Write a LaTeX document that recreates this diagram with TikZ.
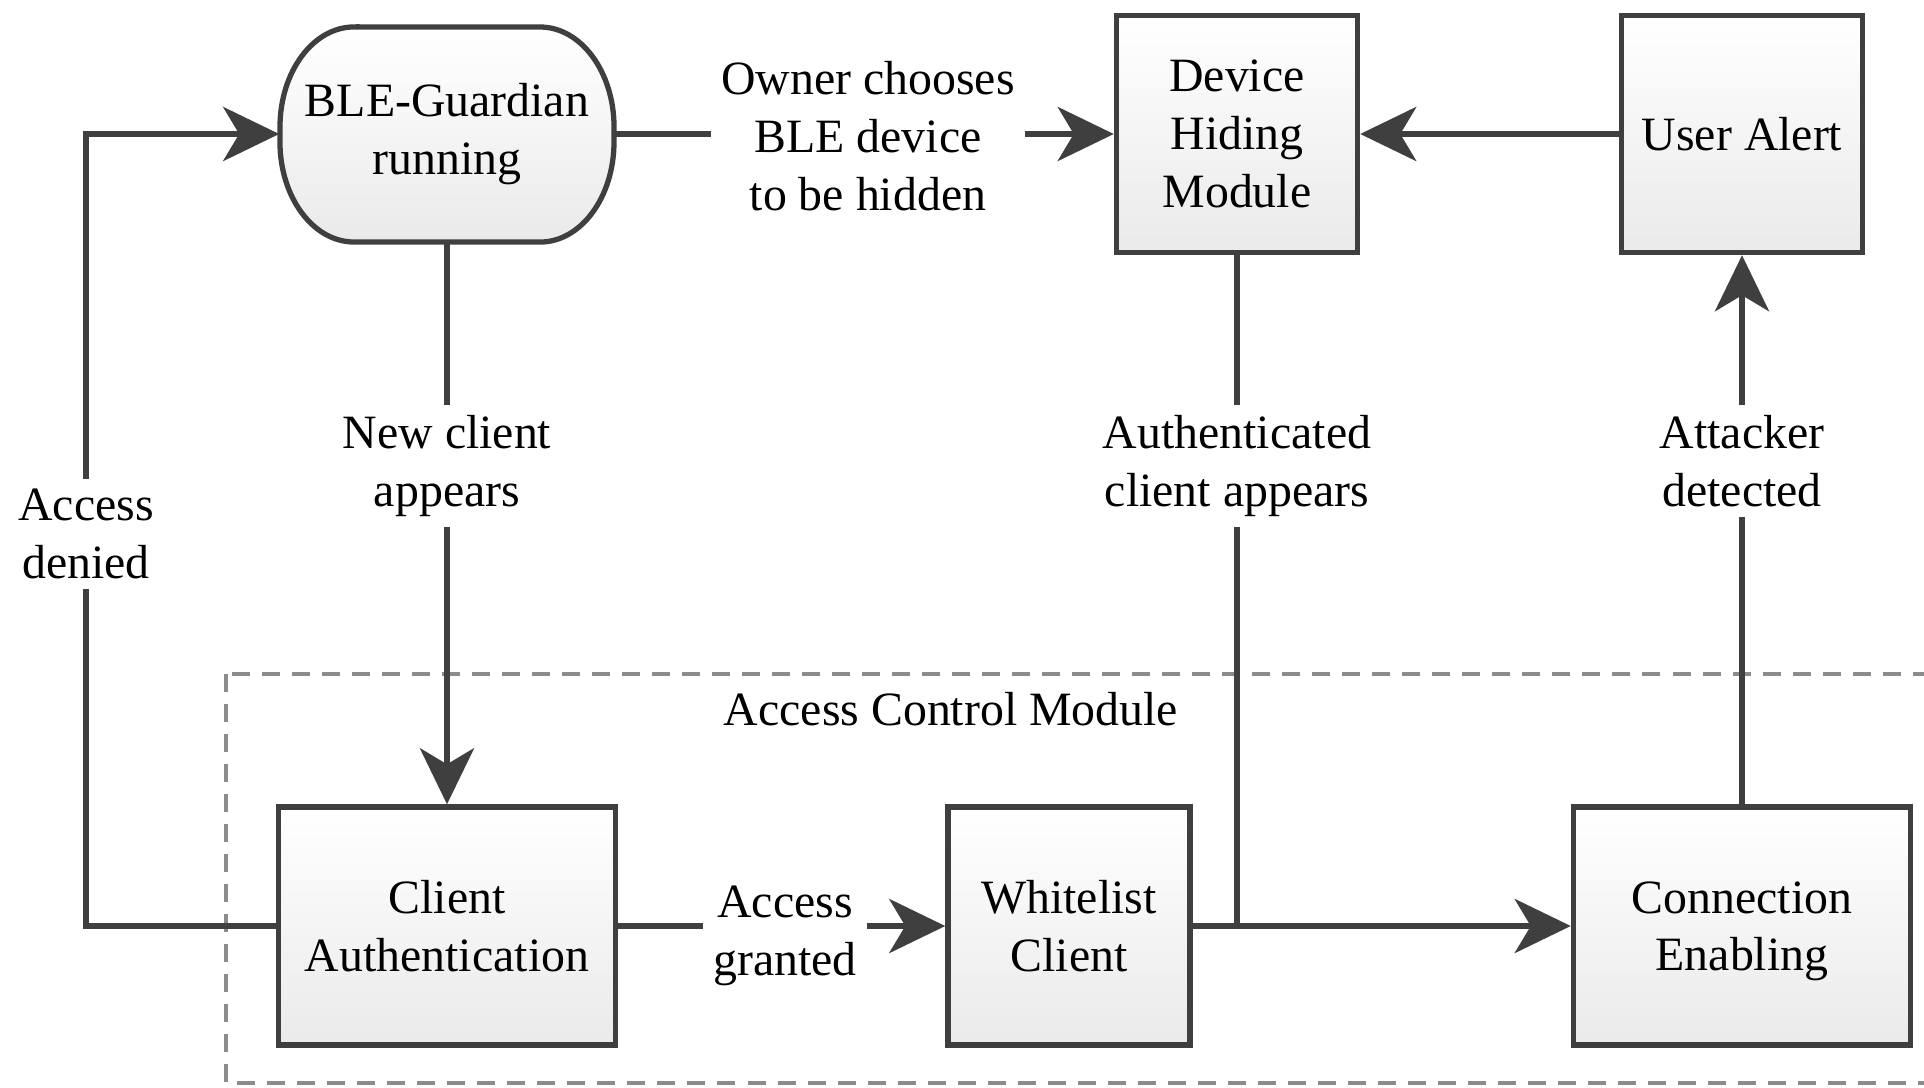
\documentclass[tikz,border=0pt]{standalone}
\usepackage{fontspec}
\setmainfont{Liberation Serif}
\usetikzlibrary{arrows.meta}
\definecolor{edgecol}{HTML}{3F3F3F}
\definecolor{dashcol}{HTML}{8C8C8C}
\definecolor{boxbottom}{HTML}{EAEAEA}
\newcommand\diagfont{\fontsize{13.6}{16.4}\selectfont}
\tikzset{
  blk/.style={draw=edgecol, line width=1.5pt, top color=white, bottom color=boxbottom,
              align=center, font=\diagfont, inner sep=2pt},
  pill/.style={draw=edgecol, line width=1.5pt, top color=white, bottom color=boxbottom},
  lbl/.style={fill=white, align=center, font=\diagfont, inner sep=3pt},
  conn/.style={draw=edgecol, line width=1.7pt},
  arr/.style={conn, -{Stealth[length=0.56cm, width=0.54cm, inset=0.16cm]}},
  zone/.style={draw=dashcol, line width=1.3pt, dash pattern=on 0.18cm off 0.12cm}
}
\begin{document}
\begin{tikzpicture}[x=0.01cm, y=-0.01cm]
  \useasboundingbox (0,0) rectangle (1924,1087);
  \clip (0,0) rectangle (1924,1087);

  % access control module frame (runs past the right edge)
  \draw[zone] (226,674) rectangle (1960,1083);
  \node[font=\diagfont] (acm) at (951,709) {Access Control Module};

  % start block: rectangle with elliptical ends
  \path[pill] (354,27) -- (540,27)
    arc[start angle=90, end angle=0, x radius=0.74cm, y radius=1.0cm] -- (614,142)
    arc[start angle=0, end angle=-90, x radius=0.74cm, y radius=1.0cm] -- (354,242)
    arc[start angle=-90, end angle=-180, x radius=0.74cm, y radius=1.0cm] -- (280,127)
    arc[start angle=180, end angle=90, x radius=0.74cm, y radius=1.0cm] -- cycle;
  \node[align=center, font=\diagfont, minimum width=3.34cm, minimum height=2.15cm, inner sep=2pt]
    (ble) at (447,134) {BLE-Guardian\\running};

  % blocks
  \node[blk, minimum width=2.41cm, minimum height=2.37cm] (dh) at (1237,134) {Device\\Hiding\\Module};
  \node[blk, minimum width=2.41cm, minimum height=2.37cm] (ua) at (1742,134) {User Alert};
  \node[blk, minimum width=3.37cm, minimum height=2.38cm] (ca) at (447,926) {Client\\Authentication};
  \node[blk, minimum width=2.42cm, minimum height=2.38cm] (wc) at (1069,926) {Whitelist\\Client};
  \node[blk, minimum width=3.37cm, minimum height=2.38cm, text depth=0pt] (ce) at (1742,926) {Connection\\Enabling};

  % routing points
  \coordinate (dlow) at (86,926);
  \coordinate (dhigh) at (86,134);
  \coordinate (jn) at (dh.south |- wc.east);

  % connectors
  \draw[arr] (ca.west) -- (dlow) -- (dhigh) -- (ble.west);
  \draw[arr] (ble.south) -- (ca.north);
  \draw[arr] (ble.east) -- (dh.west);
  \draw[arr] (ua.west) -- (dh.east);
  \draw[arr] (ca.east) -- (wc.west);
  \draw[arr] (wc.east) -- (ce.west);
  \draw[conn] (dh.south) -- (jn);
  \draw[arr] (ce.north) -- (ua.south);

  % connector labels
  \node[lbl] (ldeny) at (86,534) {Access\\denied};
  \node[lbl] (lnew) at (447,466) {New client\\appears};
  \node[lbl] (lown) at (868,136) {Owner chooses\\BLE device\\to be hidden};
  \node[lbl] (lauth) at (1237,466) {Authenticated\\client appears};
  \node[lbl] (latt) at (1742,461) {Attacker\\detected};
  \node[lbl] (lgrant) at (785,936) {Access\\granted};
\end{tikzpicture}
\end{document}
